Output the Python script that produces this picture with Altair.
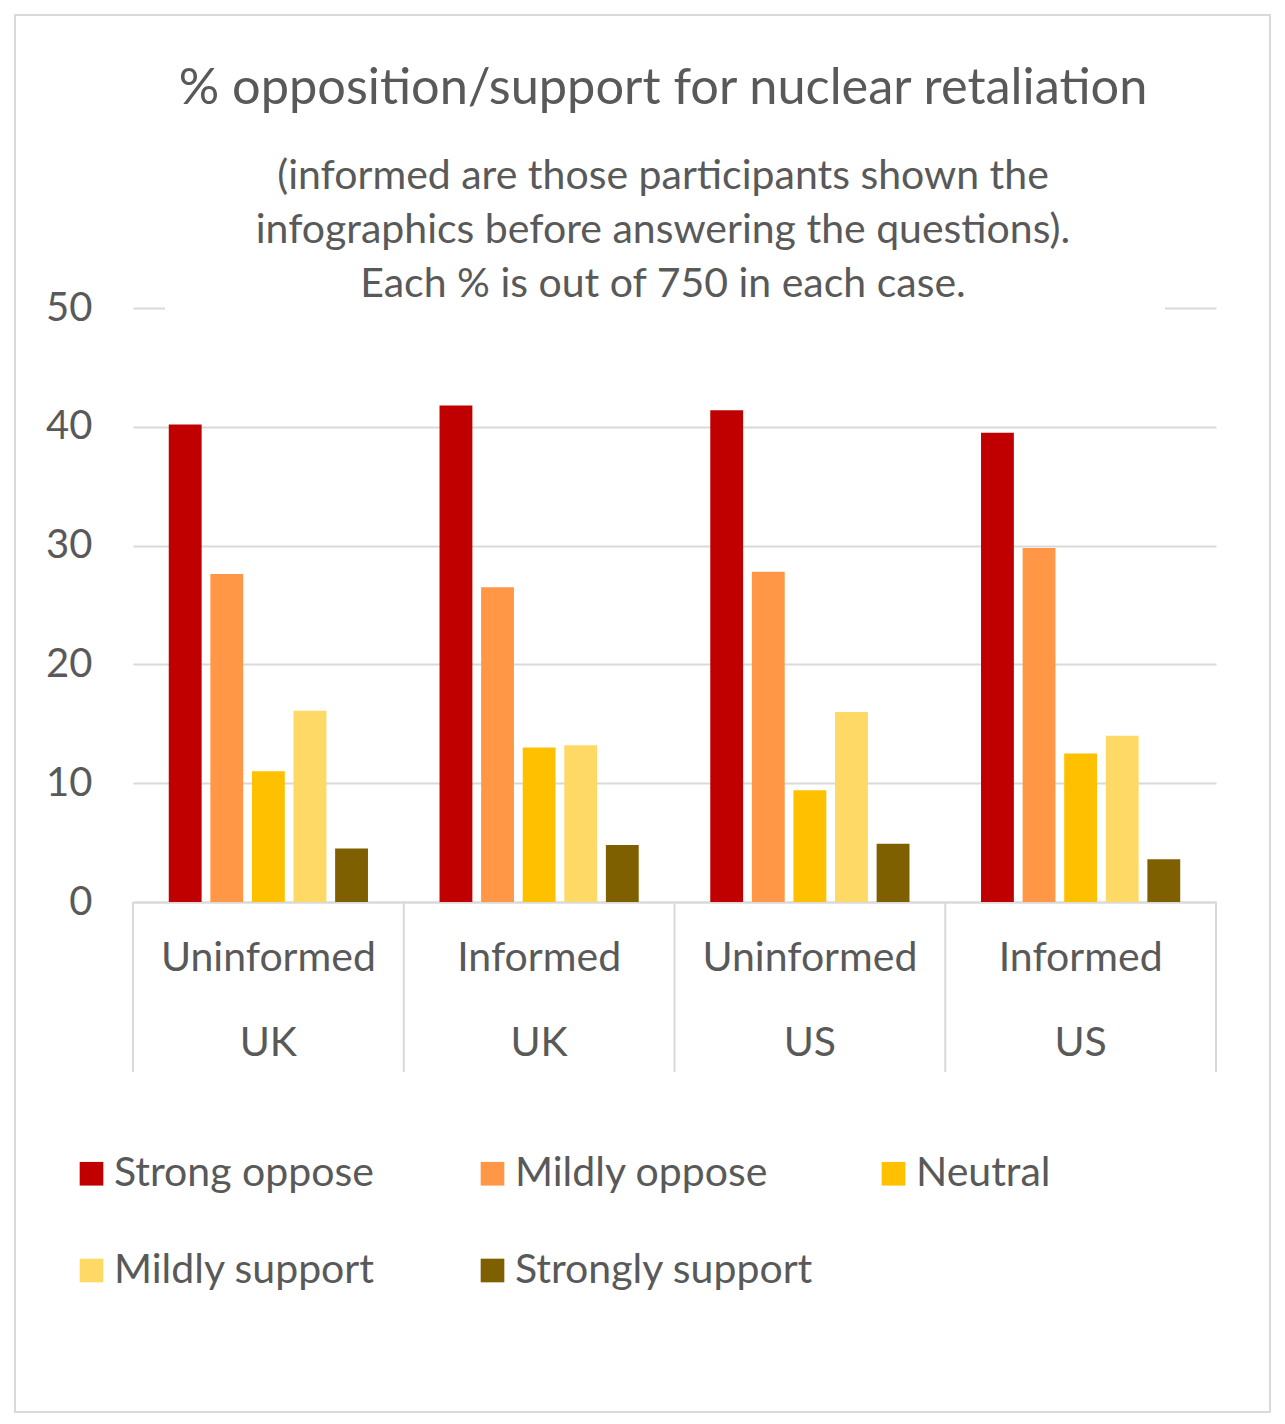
import altair as alt
import pandas as pd

# ---- data ----
groups = ["Uninformed UK", "Informed UK", "Uninformed US", "Informed US"]
conditions = ["Uninformed", "Informed", "Uninformed", "Informed"]
countries = ["UK", "UK", "US", "US"]
responses = ["Strong oppose", "Mildly oppose", "Neutral", "Mildly support", "Strongly support"]
strong_oppose = [40.2, 41.8, 41.4, 39.5]
mildly_oppose = [27.6, 26.5, 27.8, 29.8]
neutral = [11.0, 13.0, 9.4, 12.5]
mildly_support = [16.1, 13.2, 16.0, 14.0]
strongly_support = [4.5, 4.8, 4.9, 3.6]
colors = ["#C00000", "#FF9747", "#FFC000", "#FFD966", "#7F6000"]

title_text = "% opposition/support for nuclear retaliation"
subtitle_lines = [
    "(informed are those participants shown the",
    "infographics before answering the questions).",
    "Each % is out of 750 in each case.",
]

series = [strong_oppose, mildly_oppose, neutral, mildly_support, strongly_support]
rows = []
for r, vals in zip(responses, series):
    for g, v in zip(groups, vals):
        rows.append({"group": g, "response": r, "value": v})
df = pd.DataFrame(rows)
labels_df = pd.DataFrame({"group": groups, "condition": conditions, "country": countries})
one = pd.DataFrame({"a": [0]})

FONT = "Lato"
GREY = "#595959"
LINE = "#D9D9D9"
W, H = 1083, 594

xscale = alt.Scale(domain=groups, paddingInner=0, paddingOuter=0)

bars = alt.Chart(df).mark_bar().encode(
    x=alt.X("group:N", scale=xscale, sort=groups,
            axis=alt.Axis(labels=False, ticks=False, title=None, domain=True,
                          domainColor=LINE, domainWidth=2, grid=False)),
    xOffset=alt.XOffset("response:N", sort=responses,
                        scale=alt.Scale(domain=responses, paddingInner=0.21, paddingOuter=0.86)),
    y=alt.Y("value:Q", scale=alt.Scale(domain=[0, 50], nice=False),
            axis=alt.Axis(values=[0, 10, 20, 30, 40, 50], title=None, domain=False,
                          ticks=False, tickSize=0, labelPadding=41, labelFontSize=40,
                          labelFont=FONT, labelColor=GREY, gridColor=LINE, gridWidth=2)),
    color=alt.Color("response:N", sort=responses,
                    scale=alt.Scale(domain=responses, range=colors),
                    legend=alt.Legend(title=None, orient="none", legendX=-62, legendY=845,
                                      columns=3, direction="horizontal", symbolType="square",
                                      symbolSize=560, symbolStrokeWidth=0, labelFontSize=41,
                                      labelFont=FONT, labelColor=GREY, labelLimit=0,
                                      columnPadding=59, rowPadding=55, gridAlign="all",
                                      labelOffset=2, padding=0)),
)

# white cover behind subtitle over the top gridline
cover = alt.Chart(one).mark_rect(color="white").encode(
    x=alt.value(32), x2=alt.value(1032), y=alt.value(-6), y2=alt.value(6)
)

# category separators
sep = alt.Chart(labels_df).mark_rule(color=LINE, strokeWidth=2).encode(
    x=alt.X("group:N", scale=xscale, sort=groups, bandPosition=0),
    y=alt.value(H), y2=alt.value(H + 170),
)
sep_end = alt.Chart(labels_df).transform_filter(
    alt.datum.group == groups[-1]
).mark_rule(color=LINE, strokeWidth=2).encode(
    x=alt.X("group:N", scale=xscale, sort=groups, bandPosition=1),
    y=alt.value(H), y2=alt.value(H + 170),
)

cond_text = alt.Chart(labels_df).mark_text(
    font=FONT, fontSize=41, color=GREY, baseline="middle"
).encode(
    x=alt.X("group:N", scale=xscale, sort=groups),
    y=alt.value(H + 57), text="condition:N",
)
country_text = alt.Chart(labels_df).mark_text(
    font=FONT, fontSize=41, color=GREY, baseline="middle"
).encode(
    x=alt.X("group:N", scale=xscale, sort=groups),
    y=alt.value(H + 142), text="country:N",
)

title = alt.Chart(one).mark_text(
    font=FONT, fontSize=50.5, color=GREY, baseline="middle", align="center"
).encode(x=alt.value(530), y=alt.value(-219), text=alt.value(title_text))

subtitle = alt.Chart(one).mark_text(
    font=FONT, fontSize=41, color=GREY, baseline="middle", align="center", lineHeight=54
).encode(x=alt.value(530), y=alt.value(-131), text=alt.value(subtitle_lines))

border = alt.Chart(one).mark_rect(fill=None, stroke=LINE, strokeWidth=2).encode(
    x=alt.value(-118), x2=alt.value(1137), y=alt.value(-293), y2=alt.value(1104)
)

chart = alt.layer(
    bars, cover, sep, sep_end, cond_text, country_text, title, subtitle, border
).properties(
    width=W, height=H,
    autosize=alt.AutoSizeParams(type="none"),
    padding={"left": 125, "top": 300, "right": 57, "bottom": 516},
    background="white",
).configure_view(stroke=None)

chart.save("out.html", embed_options={"renderer": "svg", "actions": False})
